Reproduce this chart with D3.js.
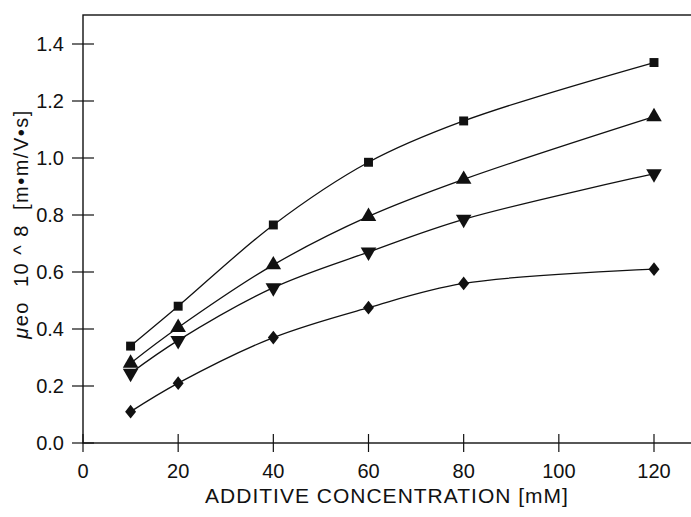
<!DOCTYPE html>
<html>
<head>
<meta charset="utf-8">
<script src="https://cdn.jsdelivr.net/npm/d3@7/dist/d3.min.js"></script>
<style>
  body { margin: 0; background: #fff; }
  text { font-family: "Liberation Sans", Arial, sans-serif; fill: #111; }
</style>
</head>
<body>
<svg id="chart" width="691" height="517"></svg>
<script>
// values
var concentration = [10, 20, 40, 60, 80, 120];
var squareSeries   = [0.34, 0.48, 0.765, 0.985, 1.13, 1.335];
var triUpSeries    = [0.28, 0.405, 0.625, 0.795, 0.925, 1.145];
var triDownSeries  = [0.245, 0.36, 0.545, 0.67, 0.785, 0.945];
var diamondSeries  = [0.11, 0.21, 0.37, 0.475, 0.56, 0.61];
var xTicks = [0, 20, 40, 60, 80, 100, 120];
var yTicks = [0.0, 0.2, 0.4, 0.6, 0.8, 1.0, 1.2, 1.4];

var svg = d3.select("#chart");
var plotLeft = 83, plotRight = 694, plotTop = 15, plotBottom = 443;

var xScale = d3.scaleLinear().domain([0, 120]).range([plotLeft, 654]);
var yScale = d3.scaleLinear().domain([0, 1.4]).range([plotBottom, 44]);

// frame
svg.append("rect")
  .attr("x", plotLeft).attr("y", plotTop)
  .attr("width", plotRight - plotLeft).attr("height", plotBottom - plotTop)
  .attr("fill", "none").attr("stroke", "#111").attr("stroke-width", 1.4);

// y axis ticks (crossing the axis)
var yAxis = svg.append("g");
yTicks.forEach(function(t){
  yAxis.append("line")
    .attr("x1", plotLeft - 11).attr("x2", plotLeft + 11)
    .attr("y1", yScale(t)).attr("y2", yScale(t))
    .attr("stroke", "#111").attr("stroke-width", 1.2);
  yAxis.append("text")
    .attr("x", plotLeft - 19).attr("y", yScale(t))
    .attr("dy", "0.36em")
    .attr("text-anchor", "end")
    .style("font-size", "20px")
    .text(d3.format(".1f")(t));
});

// x axis ticks
var xAxis = svg.append("g");
xTicks.forEach(function(t){
  xAxis.append("line")
    .attr("x1", xScale(t)).attr("x2", xScale(t))
    .attr("y1", plotBottom - 9).attr("y2", plotBottom + 9)
    .attr("stroke", "#111").attr("stroke-width", 1.2);
  xAxis.append("text")
    .attr("x", xScale(t)).attr("y", plotBottom + 35)
    .attr("text-anchor", "middle")
    .style("font-size", "20px")
    .text(t);
});

// axis titles
svg.append("text")
  .attr("x", 387).attr("y", 503)
  .attr("text-anchor", "middle")
  .style("font-size", "21px")
  .style("letter-spacing", "1px")
  .text("ADDITIVE CONCENTRATION [mM]");

var yt = svg.append("text")
  .attr("transform", "translate(28,224) rotate(-90)")
  .attr("text-anchor", "middle")
  .style("font-size", "20px")
  .style("letter-spacing", "1.5px")
  .style("white-space", "pre");
yt.append("tspan").style("font-style", "italic").text("μ");
yt.append("tspan").text("eo  10 ^ 8  [m•m/V•s]");

// series
var series = [
  {vals: squareSeries, sym: d3.symbolSquare, size: 80, rot: 0},
  {vals: triUpSeries, sym: d3.symbolTriangle, size: 105, rot: 0},
  {vals: triDownSeries, sym: d3.symbolTriangle, size: 105, rot: 180},
  {vals: diamondSeries, sym: d3.symbolSquare, size: 60, rot: 45, sy: 1.25}
];

var line = d3.line()
  .x(function(d){ return xScale(d[0]); })
  .y(function(d){ return yScale(d[1]); })
  .curve(d3.curveCatmullRom.alpha(0.5));

series.forEach(function(s){
  var pts = concentration.map(function(c, i){ return [c, s.vals[i]]; });
  svg.append("path")
    .attr("d", line(pts))
    .attr("fill", "none").attr("stroke", "#111").attr("stroke-width", 1.3);
  svg.selectAll(null).data(pts).enter().append("path")
    .attr("d", d3.symbol().type(s.sym).size(s.size))
    .attr("transform", function(d){
      var tr = "translate(" + xScale(d[0]) + "," + yScale(d[1]) + ")";
      if (s.sy) tr += " scale(1," + s.sy + ")";
      return tr + " rotate(" + s.rot + ")";
    })
    .attr("fill", "#111");
});
</script>
</body>
</html>
